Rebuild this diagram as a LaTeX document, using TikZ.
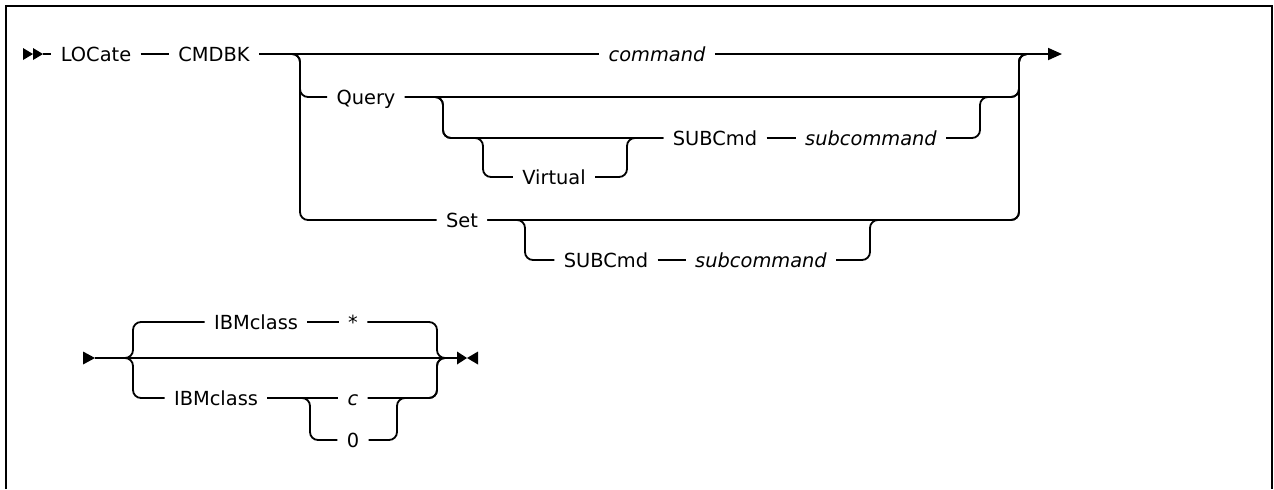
\documentclass[tikz,border=0pt]{standalone}
\usepackage{fontspec}
\setmainfont{DejaVu Sans}
\usetikzlibrary{arrows.meta,positioning}

\begin{document}
\begin{tikzpicture}[
  x=0.5pt, y=-0.5pt,
  every node/.style = {font=\fontsize{9.7}{11}\selectfont},
  kw/.style    = {inner xsep=4.5pt, inner ysep=0pt,
                  text height=7.1pt, text depth=0pt},
  var/.style   = {kw, font=\fontsize{9.7}{11}\selectfont\itshape},
  rail/.style  = {line width=0.9pt, rounded corners=4pt},
  tip/.style   = {-{Triangle[length=7pt,width=6pt]}},
  frame/.style = {line width=1.1pt},
]
\useasboundingbox (0,0) rectangle (1274,489);
\draw[frame] (6,489) -- (6,6) -- (1272,6) -- (1272,489);

\node[kw]  (locate)  at (96,54)   {LOCate};
\node[kw]  (cmdbk)   at (214,54)  {CMDBK};
\node[var] (command) at (657,54)  {command};
\node[kw]  (query)   at (366,97)  {Query};
\node[kw]  (subq)    at (715,138) {SUBCmd};
\node[var] (subqv)   at (871,138) {subcommand};
\node[kw]  (virtual) at (554,177) {Virtual};
\node[kw]  (set)     at (462,220) {Set};
\node[kw]  (subs)    at (606,260) {SUBCmd};
\node[var] (subsv)   at (761,260) {subcommand};
\node[kw]  (ibmdef)  at (256,322) {IBMclass};
\node[kw]  (star)    at (353,322) {*};
\node[kw]  (ibm)     at (216,398) {IBMclass};
\node[var] (cls)     at (353,398) {c};
\node[kw]  (zero)    at (353,440) {0};

\coordinate (start)  at (43,54);
\coordinate (jL)     at (300,54);
\coordinate (jR)     at (1019,54);
\coordinate (stop)   at (1062,54);
\coordinate (qL)     at (443,97);
\coordinate (qR)     at (980,97);
\coordinate (vL)     at (483,138);
\coordinate (vR)     at (627,138);
\coordinate (sL)     at (525,220);
\coordinate (sR)     at (870,220);
\coordinate (start2) at (95,358);
\coordinate (bL)     at (133,358);
\coordinate (bR)     at (437,358);
\coordinate (stop2)  at (457,358);
\coordinate (cL)     at (310,398);
\coordinate (cR)     at (397,398);

\fill (start) ++(-10,-6) -- ++(10,6) -- ++(-10,6) -- cycle
      ([xshift=-5pt]start) ++(-10,-6) -- ++(10,6) -- ++(-10,6) -- cycle;
\draw[rail] (start) -- (locate.west);
\draw[rail] (locate.east) -- (cmdbk.west);
\draw[rail] (cmdbk.east) -- (command.west);
\draw[rail,tip] (command.east) -- (stop);
\draw[rail] (cmdbk.east) -- (jL) |- (query.west);
\draw[rail] (cmdbk.east) -- (jL) |- (set.west);
\draw[rail] (query.east) -| (jR) -- ([xshift=8pt]jR);
\draw[rail] (query.east) -- (qL) |- (subq.west);
\draw[rail] (query.east) -- (qL) |- (vL) |- (virtual.west);
\draw[rail] (virtual.east) -| (vR) -- (subq.west);
\draw[rail] (subq.east) -- (subqv.west);
\draw[rail] (subqv.east) -| (qR) -| (jR) -- ([xshift=8pt]jR);
\draw[rail] (set.east) -| (jR) -- ([xshift=8pt]jR);
\draw[rail] (set.east) -- (sL) |- (subs.west);
\draw[rail] (subs.east) -- (subsv.west);
\draw[rail] (subsv.east) -| (sR) -| (jR) -- ([xshift=8pt]jR);

\fill (start2) ++(-12,-6.5) -- ++(12,6.5) -- ++(-12,6.5) -- cycle;
\draw[rail] (start2) -- (stop2);
\draw[rail] (start2) -- (bL) |- (ibmdef.west);
\draw[rail] (start2) -- (bL) |- (ibm.west);
\draw[rail] (ibmdef.east) -- (star.west);
\draw[rail] (star.east) -| (bR) -- (stop2);
\draw[rail] (ibm.east) -- (cls.west);
\draw[rail] (ibm.east) -- (cL) |- (zero.west);
\draw[rail] (cls.east) -| (bR) -- (stop2);
\draw[rail] (zero.east) -| (cR) -| (bR) -- (stop2);
\fill (stop2) ++(0,-6.5) -- ++(10,6.5) -- ++(-10,6.5) -- cycle
      ([xshift=10.5pt]stop2) ++(0,-6.5) -- ++(-11,6.5) -- ++(11,6.5) -- cycle;
\end{tikzpicture}
\end{document}
